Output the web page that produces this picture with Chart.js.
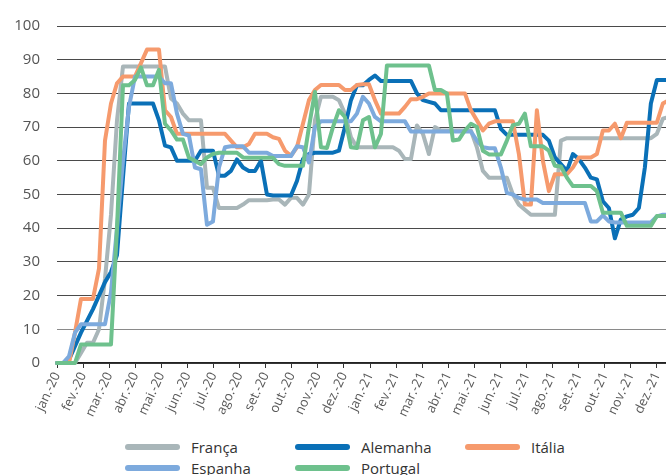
<!DOCTYPE html>
<html>
<head>
<meta charset="utf-8">
<script src="https://cdn.jsdelivr.net/npm/chart.js@4.4.1/dist/chart.umd.min.js"></script>
<style>
    html, body { margin: 0; padding: 0; background: #fff; overflow: hidden; width: 666px; height: 475px; }
    #wrap { position: absolute; left: 0; top: 0; width: 700px; height: 420px; }
    .item { position: absolute; height: 20px; display: flex; align-items: center;
            font-family: "Open Sans", sans-serif; font-size: 15px; color: #333; }
    .sw { width: 55px; height: 6px; border-radius: 3px; margin-right: 11px; }
</style>
</head>
<body>
<div id="wrap"><canvas id="stringencyChart" width="700" height="420"></canvas></div>
<div id="legend"></div>
<script>
// Month tick labels (one tick per month, jan-20 .. dez-21)
const monthLabels = ['jan.-20', 'fev.-20', 'mar.-20', 'abr.-20', 'mai.-20', 'jun.-20',
    'jul.-20', 'ago.-20', 'set.-20', 'out.-20', 'nov.-20', 'dez.-20',
    'jan.-21', 'fev.-21', 'mar.-21', 'abr.-21', 'mai.-21', 'jun.-21',
    'jul.-21', 'ago.-21', 'set.-21', 'out.-21', 'nov.-21', 'dez.-21'];

// Weekly values, week 0 = start of jan-20
const franca = [0, 0, 0, 0, 3, 6, 6, 10, 25, 44, 72, 88,
    88, 88, 88, 88, 88, 88, 88,
    78.5, 77, 74, 72, 72, 72, 52, 52, 46, 46, 46, 46, 47, 48.3, 48.3, 48.3, 48.3, 48.5, 48.5, 47, 49, 49, 47, 50,
    72, 79, 79, 79, 78, 74, 67, 64,
    64, 64, 64, 64, 64, 64,
    63, 60.5, 60.5, 70.5, 68, 62, 70,
    69, 69, 69, 69, 69, 69,
    64, 57, 55, 55, 55, 55, 50, 47, 45.5, 44, 44, 44, 44, 44,
    66,
    66.7, 66.7, 66.7, 66.7, 66.7, 66.7, 66.7, 66.7, 66.7, 66.7, 66.7, 66.7, 66.7, 66.7, 66.7,
    68, 72.5, 73, 73, 73];

const alemanha = [0, 0, 1, 5, 9, 12.5, 16, 20, 24, 27, 32, 55, 77,
    77, 77, 77, 77,
    72, 64.5, 64, 60, 60, 60, 60, 63, 63, 63,
    55.6, 55.6, 57, 60.4, 58, 57, 57, 60, 50,
    49.7, 49.7, 49.7, 49.7,
    54, 60.5, 62,
    62.4, 62.4, 62.4, 62.4,
    63, 70, 78, 82.4, 82.4, 84, 85.3,
    83.7, 83.7, 83.7, 83.7, 83.7, 83.7,
    80, 78, 77.5, 77,
    75, 75, 75, 75, 75, 75, 75, 75, 75, 75,
    69.5,
    67.7, 67.7, 67.7, 67.7, 67.7, 67.7, 67.7,
    66, 61, 59, 57, 62, 60.5, 58, 55, 54.5, 48, 46, 37, 42.6, 43.5, 44, 46, 58, 77, 84,
    84, 84, 84, 84];

const italia = [0, 0, 0, 9, 19, 19, 19, 28, 66, 77, 83,
    85, 85, 85, 89, 93, 93, 93, 75, 73,
    68, 68, 68, 68, 68, 68, 68, 68, 68,
    66, 64, 64, 65,
    68, 68, 68,
    67, 66.5, 63, 61.5, 64, 71, 78, 81,
    82.5, 82.5, 82.5, 82.5,
    81, 81, 82.5, 82.7, 82.7,
    78,
    74, 74, 74, 74,
    76, 78.3, 78.3, 79,
    80, 80, 80, 80, 80, 80, 80,
    75, 72, 69, 71,
    71.7, 71.7, 71.7, 71.7,
    62, 47, 47, 75, 60, 51,
    56, 56, 56, 58, 61, 61, 61,
    62, 69, 69, 71, 66.7,
    71.3, 71.3, 71.3, 71.3, 71.3, 71.3,
    77, 78, 78, 78];

const espanha = [0, 0, 2, 9, 11.5, 11.5, 11.5, 11.5, 11.5,
    21, 40, 60, 76, 85,
    85, 85, 85, 85,
    83, 83, 74, 68, 67.5, 58, 57.5, 41, 42, 58, 64,
    64.3, 64.3, 64.3,
    62.4, 62.4, 62.4, 62.4,
    61.4, 61.4, 61.4, 61.4,
    64.3, 64, 59.5,
    70, 71.7, 71.7, 71.7, 71.7, 71.7, 71.7,
    74, 79, 77, 73,
    71.7, 71.7, 71.7, 71.7, 71.7,
    68.7, 68.7, 68.7, 68.7, 68.7, 68.7, 68.7, 68.7, 68.7, 68.7, 68.7, 66,
    64, 63.7, 63.7, 58, 50.5, 50, 49,
    48.5, 48.5, 48.5,
    47.5, 47.5, 47.5, 47.5, 47.5, 47.5, 47.5, 47.5,
    42, 42, 43.8, 42,
    41.7, 41.7, 41.7, 41.7, 41.7, 41.7, 41.7,
    43.5, 44, 44, 44, 44];

const portugal = [0, 0, 0, 0, 5.5, 5.5, 5.5, 5.5, 5.5, 5.5,
    40, 82.4, 82.4, 84, 87.7, 82.4, 82.4, 87, 71, 69, 66.3, 66.3, 60.9, 60, 59, 61, 62,
    62.4, 62.4, 62.4, 62.4,
    61,
    60.9, 60.9, 60.9, 60.9, 60.9,
    59,
    58.5, 58.5, 58.5, 58.5,
    70, 80.5, 64, 63.8, 70, 75, 73, 64, 63.8, 72, 73, 64, 68,
    88.3, 88.3, 88.3, 88.3, 88.3, 88.3, 88.3, 88.3,
    81, 81, 80, 66, 66.3, 69, 71, 70, 63,
    61.9, 61.9, 61.9,
    66, 70.6, 71, 74,
    64.3, 64.3, 64.3,
    63, 58.5, 58.3, 55,
    52.5, 52.5, 52.5, 52.5,
    51,
    44.6, 44.6, 44.6, 44.6,
    40.7, 40.7, 40.7, 40.7, 40.7,
    43.6, 43.6, 43.6, 43.6, 43.6];

const seriesNames = ['França', 'Alemanha', 'Itália', 'Espanha', 'Portugal'];
const seriesData = [franca, alemanha, italia, espanha, portugal];
const seriesColors = ['#a9b6b9', '#0a70b7', '#f69a6d', '#7daadd', '#6ec18d'];

const weeksPerMonth = 30.4375 / 7;

const datasets = seriesNames.map((name, k) => ({
    label: name,
    data: seriesData[k].map((v, i) => ({ x: i / weeksPerMonth, y: v })),
    borderColor: seriesColors[k],
    backgroundColor: seriesColors[k],
    borderWidth: 4,
    pointRadius: 0,
    tension: 0,
    borderJoinStyle: 'round',
    borderCapStyle: 'round',
    clip: 6,
    order: seriesNames.length - k   // last series drawn on top
}));

new Chart(document.getElementById('stringencyChart'), {
    type: 'line',
    data: { datasets: datasets },
    options: {
        responsive: false,
        animation: false,
        layout: { padding: { top: 22, right: 17, bottom: 0, left: 0 } },
        plugins: { legend: { display: false }, tooltip: { enabled: false } },
        scales: {
            x: {
                type: 'linear',
                min: 0,
                max: 24,
                afterFit: s => { s.height = 57; },
                ticks: {
                    stepSize: 1,
                    autoSkip: false,
                    maxRotation: 65,
                    minRotation: 65,
                    padding: 2,
                    color: '#595959',
                    font: { family: 'Open Sans', size: 13 },
                    callback: v => monthLabels[v] || ''
                },
                grid: { drawOnChartArea: false, drawTicks: true, tickLength: 5, color: '#333', lineWidth: 1 },
                border: { color: '#222', width: 1.5 }
            },
            y: {
                min: 0,
                max: 100,
                afterFit: s => { s.width = 57; },
                ticks: {
                    stepSize: 10,
                    padding: 17,
                    color: '#555',
                    font: { family: 'Open Sans', size: 15 }
                },
                grid: {
                    drawTicks: false,
                    color: c => c.tick && c.tick.value === 10 ? '#8a8a8a' : '#4a4a4a',
                    lineWidth: 1
                },
                border: { display: false }
            }
        }
    }
});

// Legend in a 3-column grid like the original
const legendPos = [[125, 437], [295, 437], [465, 437], [125, 458], [295, 458]];
const legend = document.getElementById('legend');
seriesNames.forEach((name, k) => {
    const item = document.createElement('div');
    item.className = 'item';
    item.style.left = legendPos[k][0] + 'px';
    item.style.top = legendPos[k][1] + 'px';
    item.innerHTML = '<span class="sw" style="background:' + seriesColors[k] + '"></span><span>' + name + '</span>';
    legend.appendChild(item);
});
</script>
</body>
</html>
